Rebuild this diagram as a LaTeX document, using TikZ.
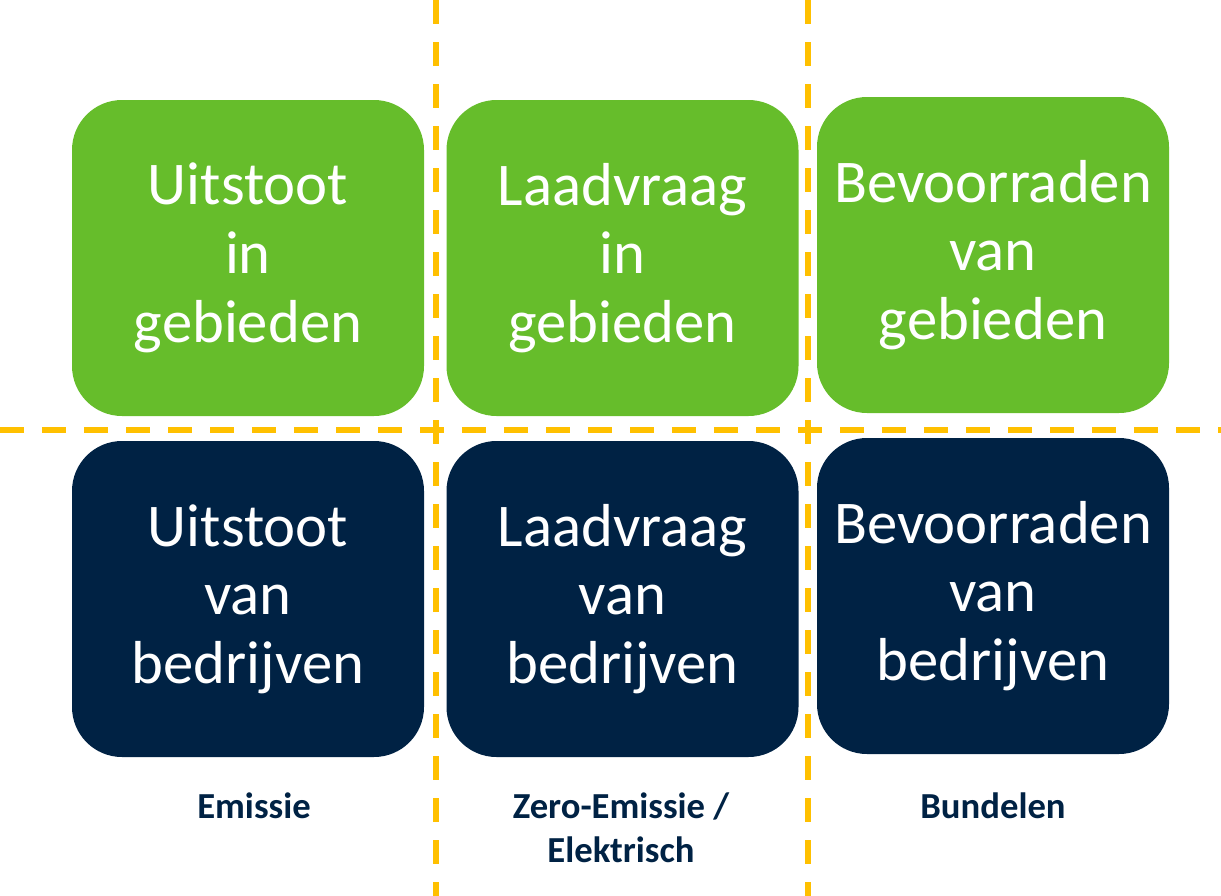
\documentclass[tikz,border=0pt]{standalone}
\usepackage{fontspec}
\setmainfont{Carlito}
\usepackage{tikz}
\usetikzlibrary{positioning}
\definecolor{tilegreen}{RGB}{102,189,43}
\definecolor{tilenavy}{RGB}{0,34,68}
\definecolor{gridyellow}{RGB}{255,192,0}
\tikzset{
  tile/.style = {align=center, inner sep=0pt, text centered, rectangle,
    rounded corners=37.5pt, minimum width=264pt, minimum height=237pt,
    text=white, font=\fontsize{45.5}{51.5}\selectfont},
  greentile/.style = {tile, fill=tilegreen},
  navytile/.style = {tile, fill=tilenavy},
  caption/.style = {align=center, inner sep=0pt, text=tilenavy,
    font=\bfseries\fontsize{27.5}{33}\selectfont},
  gridline/.style = {draw=gridyellow, line width=4.5pt,
    dash pattern=on 18pt off 13.5pt}
}
\begin{document}
\begin{tikzpicture}[x=0.75pt, y=-0.75pt]
\useasboundingbox (0,0) rectangle (1221,896);
\coordinate (vtopa) at (436,0);
\coordinate (vbota) at (436,896);
\coordinate (vtopb) at (808,0);
\coordinate (vbotb) at (808,896);
\coordinate (hleft) at (0,430);
\coordinate (hright) at (1221,430);
\draw [gridline] (vtopa) -- (vbota);
\draw [gridline] (vtopb) -- (vbotb);
\draw [gridline] (hleft) -- (hright);
\node [greentile] (ug) at (248,258) {Uitstoot\\in\\gebieden};
\node [greentile] (lg) at (622.5,258) {Laadvraag\\in\\gebieden};
\node [greentile] (bg) at (993,255) {Bevoorraden\\van\\gebieden};
\node [navytile] (ub) at (248,599) {Uitstoot\\van\\bedrijven};
\node [navytile] (lb) at (622.5,599) {Laadvraag\\van\\bedrijven};
\node [navytile] (bb) at (993,596) {Bevoorraden\\van\\bedrijven};
\node [caption] (emis) at (254,806) {Emissie};
\node [caption] (zero) at (621,828) {Zero-Emissie /\\Elektrisch};
\node [caption] (bund) at (993,806) {Bundelen};
\end{tikzpicture}
\end{document}
